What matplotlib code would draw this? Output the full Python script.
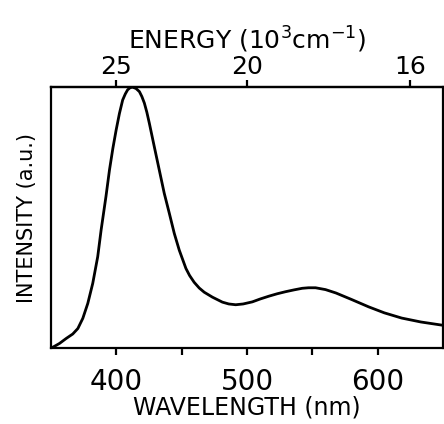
import matplotlib
matplotlib.use("Agg")
import matplotlib.pyplot as plt
import numpy as np

# emission spectrum
wavelength = [350, 353, 356.5, 361.6, 366.6, 370.5, 374.3, 378.1, 381.9, 385.7, 388.3,
              392, 394.7, 397.3, 399.8, 402.3, 404.8, 406.8, 408.6, 410.5, 412.4, 415,
              417.6, 419.5, 421.4, 423.3, 425.2, 429, 432.8, 436.6, 440.5, 444.3, 448.1,
              453.2, 456, 459.5, 463.4, 467.2, 473.5, 481.1, 486, 491.3, 497, 504, 510,
              516.8, 523, 529.5, 536, 542.2, 547, 552.4, 560, 568, 580, 593, 605,
              618.3, 633, 649]
intensity = [0.0, 0.008, 0.018, 0.037, 0.054, 0.075, 0.114, 0.171, 0.248, 0.350, 0.452,
             0.58, 0.682, 0.765, 0.835, 0.898, 0.950, 0.973, 0.989, 0.997, 0.999, 0.994,
             0.982, 0.963, 0.938, 0.903, 0.861, 0.771, 0.682, 0.593, 0.516, 0.439, 0.375,
             0.305, 0.278, 0.252, 0.230, 0.214, 0.195, 0.176, 0.169, 0.166, 0.169, 0.177,
             0.188, 0.199, 0.208, 0.216, 0.223, 0.229, 0.231, 0.231, 0.224, 0.211, 0.186,
             0.158, 0.135, 0.115, 0.100, 0.088]

wl_ticks = [400, 450, 500, 550, 600]
wl_labels = ["400", "", "500", "", "600"]
energy_ticks = [25, 20, 16]

fig = plt.figure(figsize=(4.44, 4.24), dpi=100)
ax = fig.add_axes([0.115, 0.179, 0.883, 0.616])

ax.plot(wavelength, intensity, color="black", linewidth=2.0)
ax.set_xlim(350, 650)
ax.set_ylim(0, 1.0)

for s in ax.spines.values():
    s.set_linewidth(1.6)

ax.set_yticks([])
ax.set_xticks(wl_ticks)
ax.set_xticklabels(wl_labels, fontsize=20)
ax.tick_params(axis="x", direction="out", length=5, width=1.6, pad=9)
ax.set_xlabel("WAVELENGTH (nm)", fontsize=17, labelpad=0)
ax.set_ylabel("INTENSITY (a.u.)", fontsize=15, labelpad=10)

# energy scale on top, 10^3 cm^-1
def to_energy(x):
    x = np.asarray(x, dtype=float)
    with np.errstate(divide="ignore"):
        return 1e4 / x

sec = ax.secondary_xaxis("top", functions=(to_energy, to_energy))
sec.set_xticks(energy_ticks)
sec.set_xticklabels([str(t) for t in energy_ticks], fontsize=18)
sec.tick_params(direction="out", length=5, width=1.6, pad=1)
sec.set_xlabel(r"ENERGY (10$^3$cm$^{-1}$)", fontsize=18, labelpad=4)
sec.spines["top"].set_linewidth(1.6)

fig.savefig("out.png", dpi=100)
